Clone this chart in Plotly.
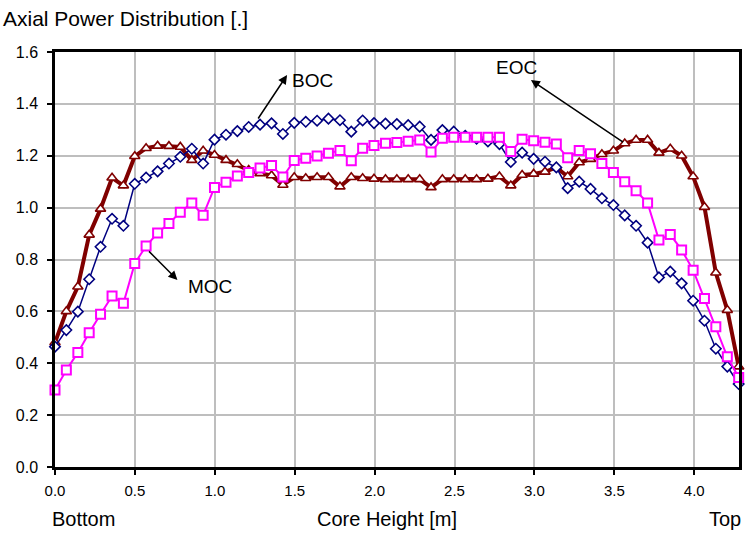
import plotly.graph_objects as go

# Core height positions [m] (node centres)
core_height = [0.000, 0.071, 0.143, 0.214, 0.285, 0.357, 0.428, 0.499, 0.570, 0.642,
               0.713, 0.784, 0.856, 0.927, 0.998, 1.070, 1.141, 1.212, 1.283, 1.355,
               1.426, 1.497, 1.569, 1.640, 1.711, 1.783, 1.854, 1.925, 1.996, 2.068,
               2.139, 2.210, 2.282, 2.353, 2.424, 2.495, 2.567, 2.638, 2.709, 2.781,
               2.852, 2.923, 2.995, 3.066, 3.137, 3.208, 3.280, 3.351, 3.422, 3.494,
               3.565, 3.636, 3.708, 3.779, 3.850, 3.921, 3.993, 4.064, 4.135, 4.207,
               4.278]

boc = [0.464, 0.528, 0.599, 0.724, 0.849, 0.957, 0.930, 1.092, 1.116, 1.140,
       1.170, 1.196, 1.227, 1.170, 1.262, 1.281, 1.295, 1.311, 1.320, 1.325,
       1.284, 1.327, 1.331, 1.335, 1.343, 1.337, 1.293, 1.336, 1.326, 1.324,
       1.322, 1.318, 1.312, 1.261, 1.299, 1.293, 1.277, 1.266, 1.255, 1.245,
       1.176, 1.212, 1.188, 1.177, 1.155, 1.075, 1.100, 1.072, 1.036, 1.010,
       0.970, 0.930, 0.865, 0.731, 0.753, 0.708, 0.641, 0.564, 0.456, 0.387,
       0.320]

moc = [0.297, 0.374, 0.441, 0.518, 0.589, 0.659, 0.631, 0.785, 0.852, 0.902,
       0.939, 0.982, 1.018, 0.971, 1.078, 1.098, 1.122, 1.135, 1.153, 1.162,
       1.118, 1.182, 1.190, 1.199, 1.210, 1.220, 1.181, 1.229, 1.240, 1.248,
       1.251, 1.256, 1.261, 1.214, 1.267, 1.271, 1.271, 1.271, 1.271, 1.271,
       1.216, 1.264, 1.258, 1.252, 1.245, 1.192, 1.220, 1.208, 1.170, 1.135,
       1.100, 1.065, 1.018, 0.875, 0.896, 0.837, 0.759, 0.650, 0.541, 0.425,
       0.345]

eoc = [0.480, 0.600, 0.695, 0.895, 0.995, 1.115, 1.085, 1.198, 1.229, 1.238,
       1.237, 1.234, 1.183, 1.219, 1.203, 1.183, 1.167, 1.145, 1.132, 1.124,
       1.087, 1.117, 1.113, 1.117, 1.117, 1.081, 1.117, 1.113, 1.111, 1.109,
       1.109, 1.109, 1.109, 1.078, 1.109, 1.109, 1.109, 1.109, 1.111, 1.120,
       1.085, 1.126, 1.130, 1.138, 1.155, 1.120, 1.174, 1.187, 1.206, 1.219,
       1.247, 1.261, 1.261, 1.211, 1.227, 1.200, 1.120, 1.002, 0.749, 0.605,
       0.387]

x_ticks = [0.0, 0.5, 1.0, 1.5, 2.0, 2.5, 3.0, 3.5, 4.0]
x_tick_text = ["0.0", "0.5", "1.0", "1.5", "2.0", "2.5", "3.0", "3.5", "4.0"]
y_ticks = [0.0, 0.2, 0.4, 0.6, 0.8, 1.0, 1.2, 1.4, 1.6]
y_tick_text = ["0.0", "0.2", "0.4", "0.6", "0.8", "1.0", "1.2", "1.4", "1.6"]

FONT = "Liberation Sans, Arial, sans-serif"

fig = go.Figure()

fig.add_trace(go.Scatter(
    x=core_height, y=eoc, mode="lines+markers", name="EOC",
    line=dict(color="#800000", width=4),
    marker=dict(symbol="triangle-up", size=9, color="white",
                line=dict(color="#800000", width=1.6)),
    cliponaxis=False))

fig.add_trace(go.Scatter(
    x=core_height, y=boc, mode="lines+markers", name="BOC",
    line=dict(color="#000080", width=1.5),
    marker=dict(symbol="diamond", size=8, color="white",
                line=dict(color="#000080", width=1.6)),
    cliponaxis=False))

fig.add_trace(go.Scatter(
    x=core_height, y=moc, mode="lines+markers", name="MOC",
    line=dict(color="#FF00FF", width=2),
    marker=dict(symbol="square", size=9, color="white",
                line=dict(color="#FF00FF", width=2)),
    cliponaxis=False))

annotations = [
    # labels with arrows
    dict(x=1.614, y=1.492, xref="x", yref="y", text="BOC", showarrow=False,
         font=dict(family=FONT, size=19, color="black")),
    dict(x=1.452, y=1.511, ax=1.265, ay=1.338, xref="x", yref="y", axref="x", ayref="y",
         text="", showarrow=True, arrowhead=2, arrowsize=1.2, arrowwidth=1.5, arrowcolor="black"),
    dict(x=2.885, y=1.542, xref="x", yref="y", text="EOC", showarrow=False,
         font=dict(family=FONT, size=19, color="black")),
    dict(x=2.978, y=1.492, ax=3.564, ay=1.249, xref="x", yref="y", axref="x", ayref="y",
         text="", showarrow=True, arrowhead=2, arrowsize=1.2, arrowwidth=1.5, arrowcolor="black"),
    dict(x=0.972, y=0.694, xref="x", yref="y", text="MOC", showarrow=False,
         font=dict(family=FONT, size=19, color="black")),
    dict(x=0.766, y=0.721, ax=0.579, ay=0.837, xref="x", yref="y", axref="x", ayref="y",
         text="", showarrow=True, arrowhead=2, arrowsize=1.2, arrowwidth=1.5, arrowcolor="black"),
    # bottom labels
    dict(x=0.18, y=-0.125, xref="x", yref="paper", yanchor="middle", text="Bottom",
         showarrow=False, font=dict(family=FONT, size=20, color="black")),
    dict(x=2.075, y=-0.125, xref="x", yref="paper", yanchor="middle", text="Core Height [m]",
         showarrow=False, font=dict(family=FONT, size=20, color="black")),
    dict(x=4.19, y=-0.125, xref="x", yref="paper", yanchor="middle", text="Top",
         showarrow=False, font=dict(family=FONT, size=20, color="black")),
]

fig.update_layout(
    width=753, height=539,
    margin=dict(l=55, r=11, t=52, b=72),
    paper_bgcolor="white", plot_bgcolor="white",
    showlegend=False,
    title=dict(text="Axial Power Distribution [.]", x=0.004, xanchor="left",
               y=1 - 19 / 539, yanchor="middle",
               font=dict(family=FONT, size=21, color="black")),
    annotations=annotations,
    font=dict(family=FONT, color="black"),
)

fig.update_xaxes(
    range=[0, 4.28], tickvals=x_ticks, ticktext=x_tick_text,
    showgrid=True, gridcolor="#BEBEBE", gridwidth=1.5,
    showline=True, linecolor="black", linewidth=2.5, mirror=True,
    ticks="outside", ticklen=5, tickcolor="black", tickwidth=1.5,
    ticklabelstandoff=3,
    tickfont=dict(family=FONT, size=15, color="black"),
    zeroline=False)

fig.update_yaxes(
    range=[0, 1.6], tickvals=y_ticks, ticktext=y_tick_text,
    showgrid=True, gridcolor="#BEBEBE", gridwidth=1.5,
    showline=True, linecolor="black", linewidth=2.5, mirror=True,
    ticks="outside", ticklen=5, tickcolor="black", tickwidth=1.5,
    ticklabelstandoff=6,
    tickfont=dict(family=FONT, size=16, color="black"),
    zeroline=False)

fig.write_html("out.html")
